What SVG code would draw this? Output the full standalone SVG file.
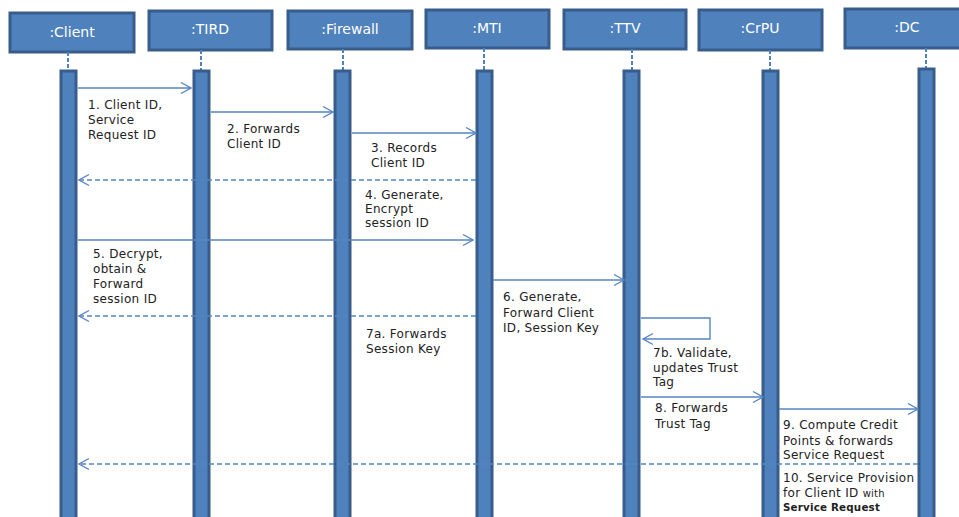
<svg xmlns="http://www.w3.org/2000/svg" width="959" height="517" viewBox="0 0 959 517">
<style>
.box{fill:#4f81bd;stroke:#385d8a;stroke-width:3}
.hdr{fill:#ffffff;font-family:"DejaVu Sans",sans-serif;font-size:14px;text-anchor:middle}
.life{stroke:#4f81bd;stroke-width:2;stroke-dasharray:4 2;fill:none}
.bar{fill:#4f81bd;stroke:#385d8a;stroke-width:3}
.msg{stroke:#5585c2;stroke-width:1.4;fill:none}
.ret{stroke:#5585c2;stroke-width:1.4;fill:none;stroke-dasharray:5 3}
.lbl{fill:#222222;font-family:"DejaVu Sans",sans-serif;font-size:12px;letter-spacing:0.3px}
.sm{font-size:10px;letter-spacing:0.2px}
.smb{font-size:10.3px;font-weight:bold;letter-spacing:0.2px}
</style>
<defs>
<marker id="ah" markerUnits="userSpaceOnUse" markerWidth="14" markerHeight="14" viewBox="0 0 14 14" refX="12" refY="7" orient="auto">
<path d="M2,1.5 L12,7 L2,12.5" fill="none" stroke="#5585c2" stroke-width="1.4"/>
</marker>
</defs>
<rect width="959" height="517" fill="#ffffff"/>
<g id="client">
<rect class="box" x="10" y="13" width="124" height="39"/>
<text class="hdr" x="72" y="37">:Client</text>
<line class="life" x1="68" y1="52" x2="68" y2="70"/>
<rect class="bar" x="61" y="71" width="15" height="450"/>
</g>
<g id="tird">
<rect class="box" x="149" y="11" width="123" height="39"/>
<text class="hdr" x="210" y="34">:TIRD</text>
<line class="life" x1="201" y1="50" x2="201" y2="70"/>
<rect class="bar" x="194" y="71" width="15" height="450"/>
</g>
<g id="firewall">
<rect class="box" x="288" y="11" width="124" height="38"/>
<text class="hdr" x="350" y="34">:Firewall</text>
<line class="life" x1="343" y1="49" x2="343" y2="70"/>
<rect class="bar" x="335" y="71" width="15" height="450"/>
</g>
<g id="mti">
<rect class="box" x="426" y="10" width="123" height="38"/>
<text class="hdr" x="487" y="33">:MTI</text>
<line class="life" x1="484" y1="48" x2="484" y2="70"/>
<rect class="bar" x="477" y="71" width="15" height="450"/>
</g>
<g id="ttv">
<rect class="box" x="564" y="10" width="122" height="39"/>
<text class="hdr" x="625" y="33">:TTV</text>
<line class="life" x1="632" y1="49" x2="632" y2="70"/>
<rect class="bar" x="624" y="71" width="15" height="450"/>
</g>
<g id="crpu">
<rect class="box" x="699" y="10" width="123" height="40"/>
<text class="hdr" x="760" y="33">:CrPU</text>
<line class="life" x1="770" y1="50" x2="770" y2="70"/>
<rect class="bar" x="763" y="71" width="15" height="450"/>
</g>
<g id="dc">
<rect class="box" x="845" y="9" width="125" height="39"/>
<text class="hdr" x="907" y="32">:DC</text>
<line class="life" x1="926" y1="48" x2="926" y2="68"/>
<rect class="bar" x="919" y="69" width="15" height="452"/>
</g>
<g id="connectors">
<line class="msg" x1="78" y1="88" x2="191" y2="88" marker-end="url(#ah)"/>
<line class="msg" x1="211" y1="112" x2="333" y2="112" marker-end="url(#ah)"/>
<line class="msg" x1="352" y1="133" x2="476" y2="133" marker-end="url(#ah)"/>
<line class="ret" x1="476" y1="180" x2="79" y2="180" marker-end="url(#ah)"/>
<line class="msg" x1="78" y1="240" x2="473" y2="240" marker-end="url(#ah)"/>
<line class="msg" x1="493" y1="280" x2="624" y2="280" marker-end="url(#ah)"/>
<line class="ret" x1="476" y1="316" x2="79" y2="316" marker-end="url(#ah)"/>
<polyline class="msg" points="641,318 710,318 710,339 643,339" marker-end="url(#ah)"/>
<line class="msg" x1="641" y1="397" x2="763" y2="397" marker-end="url(#ah)"/>
<line class="msg" x1="779" y1="409" x2="918" y2="409" marker-end="url(#ah)"/>
<line class="ret" x1="918" y1="464" x2="79" y2="464" marker-end="url(#ah)"/>
</g>
<g id="labels">
<text class="lbl" x="88" y="109">1. Client ID,</text>
<text class="lbl" x="88" y="124">Service</text>
<text class="lbl" x="88" y="139">Request ID</text>
<text class="lbl" x="227" y="133">2. Forwards</text>
<text class="lbl" x="227" y="148">Client ID</text>
<text class="lbl" x="371" y="152">3. Records</text>
<text class="lbl" x="371" y="167">Client ID</text>
<text class="lbl" x="365" y="199">4. Generate,</text>
<text class="lbl" x="365" y="213">Encrypt</text>
<text class="lbl" x="365" y="227">session ID</text>
<text class="lbl" x="93" y="258">5. Decrypt,</text>
<text class="lbl" x="93" y="273">obtain &amp;</text>
<text class="lbl" x="93" y="288">Forward</text>
<text class="lbl" x="93" y="303">session ID</text>
<text class="lbl" x="503" y="301">6. Generate,</text>
<text class="lbl" x="503" y="317">Forward Client</text>
<text class="lbl" x="503" y="332">ID, Session Key</text>
<text class="lbl" x="366" y="338">7a. Forwards</text>
<text class="lbl" x="366" y="353">Session Key</text>
<text class="lbl" x="653" y="357">7b. Validate,</text>
<text class="lbl" x="653" y="372">updates Trust</text>
<text class="lbl" x="653" y="386">Tag</text>
<text class="lbl" x="655" y="412">8. Forwards</text>
<text class="lbl" x="655" y="428">Trust Tag</text>
<text class="lbl" x="783" y="429">9. Compute Credit</text>
<text class="lbl" x="783" y="445">Points &amp; forwards</text>
<text class="lbl" x="783" y="459">Service Request</text>
<text class="lbl" x="783" y="482">10. Service Provision</text>
<text class="lbl" x="783" y="497">for Client ID <tspan class="sm">with</tspan></text>
<text class="lbl smb" x="783" y="511">Service Request</text>
</g>
</svg>
